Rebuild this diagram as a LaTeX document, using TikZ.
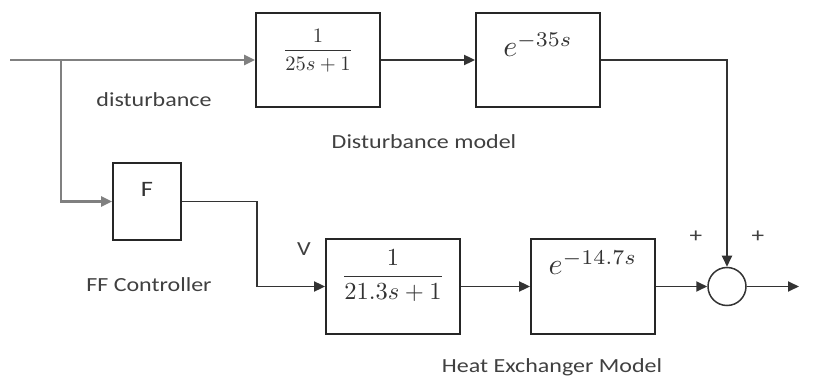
\documentclass[tikz,border=0pt]{standalone}
\usepackage{amsmath}
\usepackage{graphicx}
\usepackage[no-math]{fontspec}
\setmainfont{Carlito}[FakeStretch=1.2]
\usetikzlibrary{positioning, arrows.meta, calc}

% enlarged formula
\newcommand{\bigf}[2]{\scalebox{#1}{$#2$}}

\begin{document}
\begin{tikzpicture}[x=1pt, y=-1pt,
  blk/.style={draw=black!85, line width=1.8pt, minimum width=124pt, minimum height=94pt,
              inner sep=0pt, text=black!80},
  sumnode/.style={circle, draw=black!80, line width=1.5pt, minimum size=38pt, inner sep=0pt},
  arr/.style={-{Triangle[length=11pt, width=10pt]}, line width=1.8pt, color=black!80},
  inwire/.style={line width=2.4pt, color=black!50},
  lbl/.style={font=\fontsize{20}{24}\selectfont, text=black!75, inner sep=0pt},
  sgn/.style={font=\fontsize{21}{24}\selectfont, text=black!75, inner sep=0pt},
]
\useasboundingbox (0,0) rectangle (817,382);

% --- Disturbance path (top row) ---
\node[blk, text height=21pt, text depth=29pt]
  (dlag) at (318,60) {\bigf{2.05}{\dfrac{1}{25s+1}}};
\node[blk, text height=25pt, text depth=31pt]
  (ddel) at (538,60) {\bigf{3.0}{e^{-35s}}};

% --- Feedforward controller ---
\node[blk, minimum width=68pt, minimum height=77pt, text height=17pt, text depth=26pt,
      font=\fontsize{22}{26}\selectfont] (ff) at (147,201.5) {F};

% --- Heat exchanger path (bottom row) ---
\node[blk, minimum width=134pt, minimum height=95pt, text height=22pt, text depth=30pt]
  (hlag) at (393,286.5) {\bigf{2.45}{\dfrac{1}{21.3s+1}}};
\node[blk, minimum height=95pt, text height=25pt, text depth=48pt]
  (hdel) at (593,286.5) {\bigf{3.0}{e^{-14.7s}}};

\node[sumnode] (sum) at (727,286.5) {};

\coordinate (in) at (10,60);
\coordinate (br) at (61,60);
\coordinate (out) at (799,286.5);

% --- Connectors ---
\draw[inwire] (in) -- (br);
\draw[arr, inwire] (br) -- (dlag);
\draw[arr, inwire] (br) |- (ff);
\draw[arr] (dlag) -- (ddel);
\draw[arr] (ddel) -| (sum);
\draw[arr] (ff.east) -- ++(75,0) |- (hlag);
\draw[arr] (hlag) -- (hdel);
\draw[arr] (hdel) -- (sum);
\draw[arr] (sum) -- (out);

% --- Labels ---
\node[lbl] (distlbl) at (154,100) {disturbance};
\node[lbl] (dmodlbl) at (424,142) {Disturbance model};
\node[lbl] (fflbl) at (149,285) {FF Controller};
\node[lbl] (vlbl) at (304,249) {V};
\node[lbl] (hxlbl) at (552,367) {Heat Exchanger Model};
\node[sgn] (pa) at (696,237) {+};
\node[sgn] (pb) at (758,237) {+};

\end{tikzpicture}
\end{document}
